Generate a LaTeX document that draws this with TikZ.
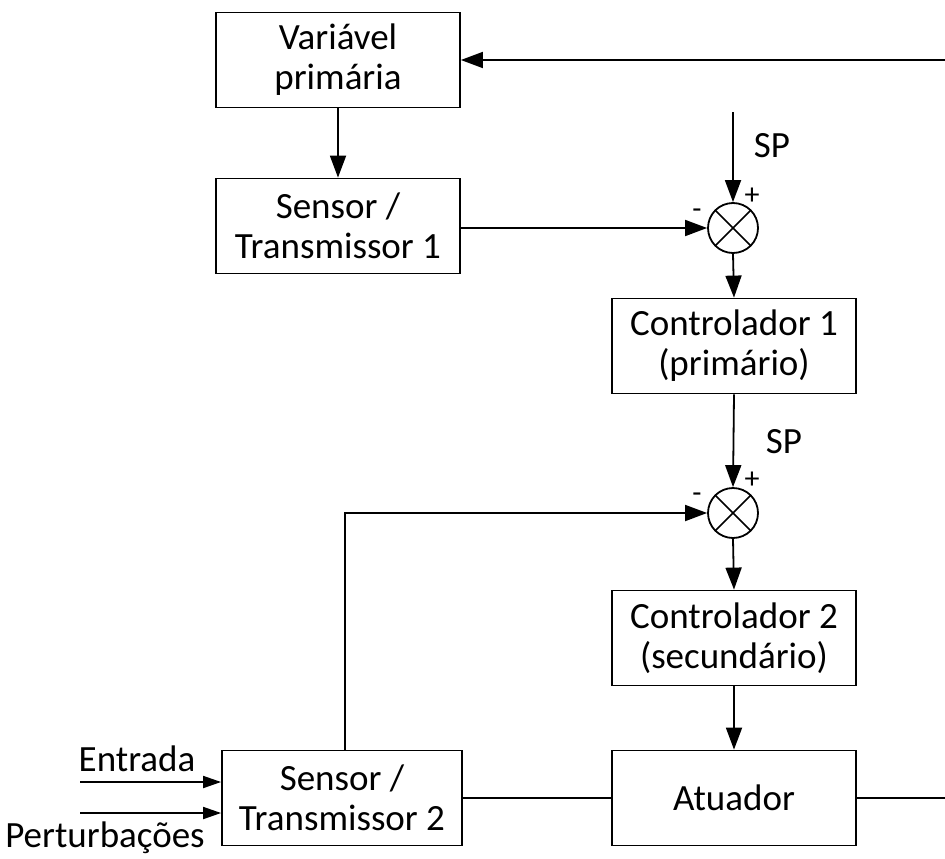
\documentclass[tikz,border=0pt]{standalone}
\usepackage{fontspec}
\setmainfont{Carlito}
\usetikzlibrary{arrows.meta}
\begin{document}
\begin{tikzpicture}[x=1pt,y=-1pt,
  blk/.style={draw,line width=1.8pt,minimum width=244pt,minimum height=95pt,align=center,font=\fontsize{37}{40}\selectfont,inner sep=0pt},
  sumj/.style={draw,circle,line width=1.8pt,minimum size=50pt,inner sep=0pt,path picture={\draw[line width=1.5pt] (path picture bounding box.north west)--(path picture bounding box.south east) (path picture bounding box.north east)--(path picture bounding box.south west);}},
  lbl/.style={font=\fontsize{37}{40}\selectfont,inner sep=0pt},
  sgn/.style={font=\fontsize{30}{30}\selectfont,inner sep=0pt},
  ln/.style={line width=1.8pt},
  arr/.style={line width=1.8pt,-{Triangle[length=22pt,width=16pt]}}]
\useasboundingbox (0,0) rectangle (945,859);
\node[blk] (vp) at (338,60) {Variável\\primária};
\node[blk] (st1) at (338,226) {Sensor /\\Transmissor 1};
\node[sumj] (s1) at (733,228) {};
\node[blk] (c1) at (734,346) {Controlador 1\\(primário)};
\node[sumj] (s2) at (733,513) {};
\node[blk] (c2) at (734,638) {Controlador 2\\(secundário)};
\node[blk] (at) at (734,798) {Atuador};
\node[blk,minimum width=240pt] (st2) at (342,798) {Sensor /\\Transmissor 2};
\coordinate (sp1) at (733,112);
\coordinate (rt) at (945,60);
\coordinate (rb) at (945,798);
\coordinate (fb) at (345,513);
\coordinate (e1) at (80,782);
\coordinate (e2) at (80,813);
\node[lbl] (sp1l) at (772,146) {SP};
\node[lbl] (sp2l) at (784,442) {SP};
\node[sgn] (p1) at (752,196) {+};
\node[sgn] (m1) at (697,214) {-};
\node[sgn] (p2) at (752,480) {+};
\node[sgn] (m2) at (697,498) {-};
\node[lbl] (ent) at (137,759) {Entrada};
\node[lbl] (pert) at (105,838) {Perturbações};
\draw[arr] (rt) -- (vp.east);
\draw[arr] (vp.south) -- (st1.north);
\draw[arr] (sp1) -- (s1.north);
\draw[arr] (st1.east |- s1.west) -- (s1.west);
\draw[arr] (s1.south) -- (c1.north);
\draw[arr] (c1.south) -- (s2.north);
\draw[arr] (st2.north -| fb) -- (fb) -- (s2.west);
\draw[arr] (s2.south) -- (c2.north);
\draw[arr] (c2.south) -- (at.north);
\draw[ln] (st2.east) -- (at.west);
\draw[ln] (at.east) -- (rb);
\draw[arr,-{Triangle[length=18pt,width=12pt]}] (e1) -- (e1 -| st2.west);
\draw[arr,-{Triangle[length=18pt,width=12pt]}] (e2) -- (e2 -| st2.west);
\end{tikzpicture}
\end{document}
